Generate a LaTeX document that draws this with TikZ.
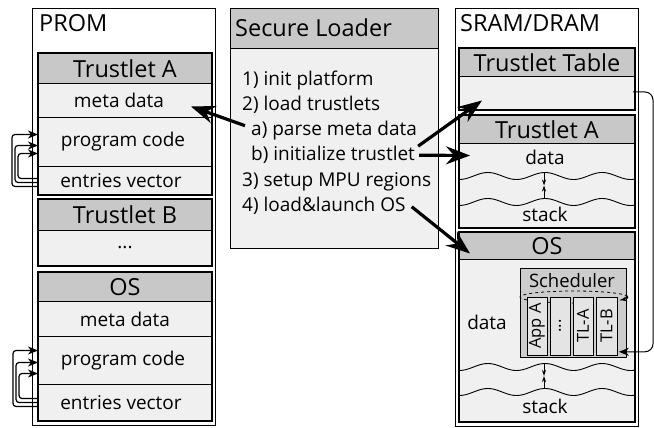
\documentclass[tikz,border=0pt]{standalone}
\usepackage{fontspec}
\setmainfont{Open Sans}
\usetikzlibrary{arrows.meta,calc}
\definecolor{hdrgray}{HTML}{C8C8C8}
\definecolor{rowgray}{HTML}{F0F0F0}
\definecolor{schgray}{HTML}{CDCDCD}
\definecolor{colgray}{HTML}{E4E4E4}
\newcommand{\ttlfont}{\fontsize{23.5}{28}\selectfont}
\newcommand{\bodyfont}{\fontsize{19}{23}\selectfont}
\newcommand{\schfont}{\fontsize{18.5}{22}\selectfont}
\newcommand{\colfont}{\fontsize{16.5}{19}\selectfont}
\tikzset{
  outerbox/.style={draw, fill=white, line width=1.2pt, anchor=north west, inner sep=0pt},
  hdr/.style={draw, fill=hdrgray, line width=1pt, inner sep=0pt, anchor=north west, font=\ttlfont},
  rowbox/.style={draw, fill=rowgray, line width=1pt, inner sep=0pt, anchor=north west, font=\bodyfont},
  blk/.style={draw, line width=1.7pt},
  lbl/.style={anchor=base west, inner sep=0pt, font=\bodyfont},
  ttl/.style={anchor=base west, inner sep=0pt, font=\ttlfont},
  bigarrow/.style={line width=3.2pt, -{Stealth[length=24pt,width=18pt,inset=8pt]}},
  looparrow/.style={line width=1.2pt, rounded corners=3pt, -{Stealth[length=10pt,width=8pt,inset=3pt]}},
  wave/.style={line width=0.9pt},
  growarrow/.style={line width=1pt, -{Stealth[length=6pt,width=4pt]}},
  colbox/.style={draw, fill=colgray, line width=0.8pt, inner sep=0pt, rotate=90, minimum width=58pt, font=\colfont},
}
\begin{document}
\begin{tikzpicture}[x=1pt,y=-1pt]
\useasboundingbox (0,0) rectangle (654,428);

% ---------------- PROM ----------------
\node[outerbox, minimum width=183pt, minimum height=417pt] (prom) at (32,8) {};
\node[ttl] (promlbl) at (39,32) {PROM};

\node[hdr, minimum width=173pt, minimum height=30pt] (pAh) at (38,53) {Trustlet A};
\node[rowbox, minimum width=173pt, minimum height=34pt] (pAm) at (38,83) {\hspace*{-12pt}meta data};
\node[rowbox, minimum width=173pt, minimum height=49pt] (pAp) at (38,117) {\hspace*{-4pt}program code};
\node[rowbox, minimum width=173pt, minimum height=28pt] (pAe) at (38,166) {\hspace*{-8pt}entries vector};
\draw[blk] (pAh.north west) rectangle (pAe.south east);

\node[hdr, minimum width=173pt, minimum height=31pt] (pBh) at (38,199) {Trustlet B};
\node[rowbox, minimum width=173pt, minimum height=35pt] (pBb) at (38,230) {...};
\draw[blk] (pBh.north west) rectangle (pBb.south east);

\node[hdr, minimum width=173pt, minimum height=29pt] (pOh) at (38,272) {OS};
\node[rowbox, minimum width=173pt, minimum height=35pt] (pOm) at (38,301) {meta data};
\node[rowbox, minimum width=173pt, minimum height=48pt] (pOp) at (38,336) {\hspace*{-4pt}program code};
\node[rowbox, minimum width=173pt, minimum height=36pt] (pOe) at (38,384) {\hspace*{-8pt}entries vector};
\draw[blk] (pOh.north west) rectangle (pOe.south east);

% loops on the left
\draw[looparrow] ($(pAe.west)+(0,6)$) -- ++(-26,0) |- ($(pAp.west)+(0,-7.5)$);
\draw[looparrow] ($(pAe.west)+(0,2)$) -- ++(-23,0) |- ($(pAp.west)+(0,3.5)$);
\draw[looparrow] ($(pAe.west)+(0,-2)$) -- ++(-20,0) |- ($(pAp.west)+(0,11.5)$);
\draw[looparrow] ($(pOe.west)+(0,4)$) -- ++(-25,0) |- ($(pOp.west)+(0,-10)$);
\draw[looparrow] ($(pOe.west)+(0,0)$) -- ++(-22,0) |- ($(pOp.west)+(0,2)$);
\draw[looparrow] ($(pOe.west)+(0,-4)$) -- ++(-19,0) |- ($(pOp.west)+(0,13)$);

% ---------------- Secure Loader ----------------
\node[hdr, minimum width=208pt, minimum height=40pt, line width=1.2pt] (slh) at (230,8) {};
\node[ttl] (sllbl) at (235,37) {Secure Loader};
\node[rowbox, minimum width=208pt, minimum height=200pt, line width=1.2pt] (slb) at (230,48) {};
\node[lbl] (l1) at (242,85) {1) init platform};
\node[lbl] (l2) at (242,110.3) {2) load trustlets};
\node[lbl] (l3) at (251,135.6) {a) parse meta data};
\node[lbl] (l4) at (251,160.9) {b) initialize trustlet};
\node[lbl] (l5) at (242,186.2) {3) setup MPU regions};
\node[lbl] (l6) at (242,211.5) {4) load\&launch OS};

% ---------------- SRAM/DRAM ----------------
\node[outerbox, minimum width=183pt, minimum height=418pt] (sram) at (455,8) {};
\node[ttl] (sramlbl) at (460,32) {SRAM/DRAM};

\node[hdr, minimum width=175pt, minimum height=28pt] (tth) at (459,48) {Trustlet Table};
\node[rowbox, minimum width=175pt, minimum height=33pt] (ttb) at (459,76) {};
\draw[blk] (tth.north west) rectangle (ttb.south east);

\node[hdr, minimum width=175pt, minimum height=28pt] (sAh) at (459,115) {Trustlet A};
\node[rowbox, minimum width=175pt, minimum height=84pt] (sAb) at (459,143) {};
\draw[wave] plot[domain=459:634, samples=80] (\x, {176 - 3.5*cos((\x-545)*6.3)});
\draw[wave] plot[domain=459:634, samples=80] (\x, {202 - 3.5*cos((\x-545)*6.3)});
\coordinate (sAw1) at (544,172.5);
\coordinate (sAw2) at (544,198.5);
\coordinate (sAmid) at (544,185.5);
\draw[growarrow] (sAw1) -- (sAmid);
\draw[growarrow] (sAw2) -- (sAmid);
\node[font=\bodyfont, inner sep=0pt] (sAdata) at (545,157) {data};
\node[font=\bodyfont, inner sep=0pt] (sAstack) at (545,214) {stack};
\draw[blk] (sAh.north west) rectangle (sAb.south east);

\node[hdr, minimum width=175pt, minimum height=27pt] (sOh) at (459,232) {OS};
\node[rowbox, minimum width=175pt, minimum height=162pt] (sOb) at (459,259) {};
\node[font=\bodyfont, inner sep=0pt] (sOdata) at (487,322) {data};
\draw[wave] plot[domain=459:634, samples=80] (\x, {367 - 3.5*cos((\x-545)*6.3)});
\draw[wave] plot[domain=459:634, samples=80] (\x, {392 - 3.5*cos((\x-545)*6.3)});
\coordinate (sOw1) at (544,363.5);
\coordinate (sOw2) at (544,388.5);
\coordinate (sOmid) at (544,376);
\draw[growarrow] (sOw1) -- (sOmid);
\draw[growarrow] (sOw2) -- (sOmid);
\node[font=\bodyfont, inner sep=0pt] (sOstack) at (545,406) {stack};

% scheduler
\node[draw, fill=schgray, line width=0.8pt, anchor=north west, inner sep=0pt,
      minimum width=106pt, minimum height=89pt] (sch) at (520,268) {};
\node[font=\schfont, inner sep=0pt] (schlbl) at (572,281) {Scheduler};
\coordinate (ring) at (574,297);
\draw[dashed, line width=0.8pt] (ring) ellipse [x radius=54, y radius=6];
\draw[line width=0.8pt, -{Stealth[length=6pt,width=5pt]}] ($(ring)+({54*cos(-10)},{6*sin(-10)})$)
   arc[start angle=-10, end angle=30, x radius=54, y radius=6];
\node[colbox, minimum height=20pt] (cA) at (537,326) {App A};
\node[colbox, minimum height=20pt] (cD) at (560,326) {...};
\node[colbox, minimum height=20pt] (cTA) at (583,326) {TL-A};
\node[colbox, minimum height=21pt] (cTB) at (606.5,326) {TL-B};
\draw[blk] (sOh.north west) rectangle (sOb.south east);

% trustlet table -> scheduler
\draw[line width=1pt, rounded corners=8pt, -{Stealth[length=10pt,width=8pt,inset=3pt]}]
  ($(ttb.east)+(-2,-1)$) -- ++(20,0) |- ($(sch.south east)+(-8,-6)$);

% ---------------- big arrows ----------------
\draw[bigarrow] ($(l3.west)+(-6,-5)$) -- ($(pAm.east)+(-21,6)$);
\draw[bigarrow] ($(l4.east)+(3,-9)$) -- ($(ttb.west)+(23,7.5)$);
\draw[bigarrow] ($(l4.east)+(4,0)$) -- ($(sAb.west)+(11,-30)$);
\draw[bigarrow] ($(l6.east)+(6,1)$) -- ($(sOh.west)+(11,7.5)$);
\end{tikzpicture}
\end{document}
